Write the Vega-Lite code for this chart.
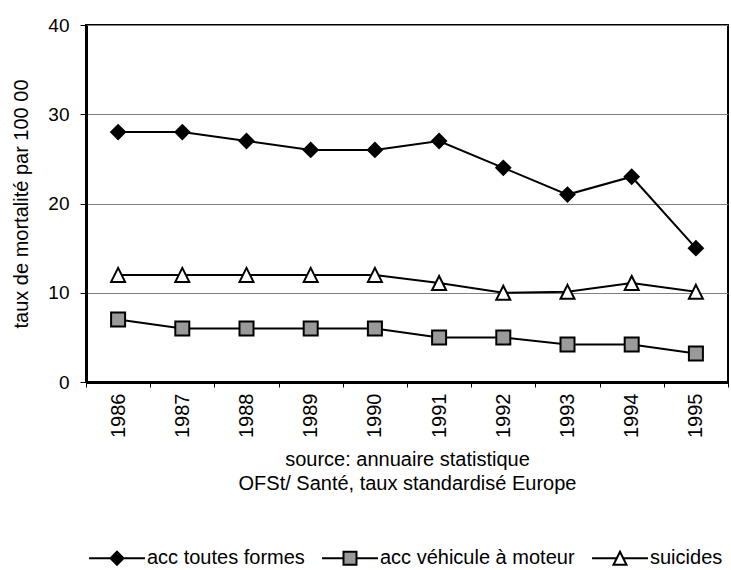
{
  "$schema": "https://vega.github.io/schema/vega-lite/v6.json",
  "width": 642,
  "height": 357,
  "autosize": "none",
  "padding": {"left": 86, "top": 25, "right": 3, "bottom": 188},
  "background": "white",
  "config": {
    "font": "Liberation Sans",
    "view": {"stroke": "black", "strokeWidth": 2},
    "axis": {"labelColor": "black", "titleColor": "black", "tickColor": "black", "domainColor": "black", "titleFontWeight": "normal", "labelFont": "Liberation Sans", "titleFont": "Liberation Sans"},
    "legend": {"labelFont": "Liberation Sans", "labelColor": "black"}
  },
  "data": {
    "values": [
      {"year": 1986, "series": "acc toutes formes", "value": 28},
      {"year": 1987, "series": "acc toutes formes", "value": 28},
      {"year": 1988, "series": "acc toutes formes", "value": 27},
      {"year": 1989, "series": "acc toutes formes", "value": 26},
      {"year": 1990, "series": "acc toutes formes", "value": 26},
      {"year": 1991, "series": "acc toutes formes", "value": 27},
      {"year": 1992, "series": "acc toutes formes", "value": 24},
      {"year": 1993, "series": "acc toutes formes", "value": 21},
      {"year": 1994, "series": "acc toutes formes", "value": 23},
      {"year": 1995, "series": "acc toutes formes", "value": 15},
      {"year": 1986, "series": "acc véhicule à moteur", "value": 7},
      {"year": 1987, "series": "acc véhicule à moteur", "value": 6},
      {"year": 1988, "series": "acc véhicule à moteur", "value": 6},
      {"year": 1989, "series": "acc véhicule à moteur", "value": 6},
      {"year": 1990, "series": "acc véhicule à moteur", "value": 6},
      {"year": 1991, "series": "acc véhicule à moteur", "value": 5},
      {"year": 1992, "series": "acc véhicule à moteur", "value": 5},
      {"year": 1993, "series": "acc véhicule à moteur", "value": 4.2},
      {"year": 1994, "series": "acc véhicule à moteur", "value": 4.2},
      {"year": 1995, "series": "acc véhicule à moteur", "value": 3.2},
      {"year": 1986, "series": "suicides", "value": 12},
      {"year": 1987, "series": "suicides", "value": 12},
      {"year": 1988, "series": "suicides", "value": 12},
      {"year": 1989, "series": "suicides", "value": 12},
      {"year": 1990, "series": "suicides", "value": 12},
      {"year": 1991, "series": "suicides", "value": 11.1},
      {"year": 1992, "series": "suicides", "value": 10},
      {"year": 1993, "series": "suicides", "value": 10.1},
      {"year": 1994, "series": "suicides", "value": 11.1},
      {"year": 1995, "series": "suicides", "value": 10.1}
    ]
  },
  "encoding": {
    "x": {
      "field": "year",
      "type": "ordinal",
      "scale": {"type": "band", "paddingInner": 0, "paddingOuter": 0},
      "axis": {
        "title": ["source: annuaire statistique", "OFSt/ Santé, taux standardisé Europe"],
        "titleFontSize": 20,
        "titleLineHeight": 24,
        "titlePadding": 12,
        "labelAngle": -90,
        "labelFontSize": 20,
        "labelPadding": 6,
        "tickBand": "extent",
        "tickSize": 5,
        "tickWidth": 1,
        "domainWidth": 3,
        "grid": false
      }
    },
    "y": {
      "field": "value",
      "type": "quantitative",
      "scale": {"domain": [0, 40], "nice": false},
      "axis": {
        "values": [0, 10, 20, 30, 40],
        "grid": true,
        "gridColor": "#808080",
        "gridWidth": 1,
        "tickSize": 6,
        "labelFontSize": 19,
        "labelPadding": 11,
        "domainWidth": 3,
        "title": "taux de mortalité par 100 00",
        "titleFontSize": 20,
        "titlePadding": 16
      }
    }
  },
  "layer": [
    {
      "mark": {"type": "line", "color": "black", "strokeWidth": 2},
      "encoding": {"detail": {"field": "series"}}
    },
    {
      "mark": {"type": "point", "filled": true, "stroke": "black", "strokeWidth": 2, "size": 196, "opacity": 1},
      "encoding": {
        "shape": {"field": "series", "scale": {"domain": ["acc toutes formes", "acc véhicule à moteur", "suicides"], "range": ["diamond", "square", "M0,-1L1,1L-1,1Z"]}, "legend": null},
        "fill": {"field": "series", "scale": {"domain": ["acc toutes formes", "acc véhicule à moteur", "suicides"], "range": ["black", "#9a9a9a", "white"]}, "legend": null}
      }
    },
    {
      "transform": [{"filter": "false"}],
      "mark": {"type": "point", "filled": true, "stroke": "black", "strokeWidth": 2, "size": 169, "opacity": 1},
      "encoding": {
        "shape": {
          "field": "series",
          "scale": {"domain": ["acc toutes formes", "acc véhicule à moteur", "suicides"], "range": ["M-4.3,0H-1M1,0H4.3M0,-1L1,0L0,1L-1,0Z", "M-4.3,0H-1M1,0H4.3M-1,-1H1V1H-1Z", "M-4.3,0H-0.5M0.5,0H4.3M0,-1L1,1L-1,1Z"]},
          "legend": {"title": null, "orient": "none", "direction": "horizontal", "legendX": 21, "legendY": 523, "labelFontSize": 20, "labelLimit": 400, "labelOffset": 20, "columnPadding": 13, "padding": 0, "symbolStrokeWidth": 2, "symbolSize": 169}
        },
        "fill": {
          "field": "series",
          "scale": {"domain": ["acc toutes formes", "acc véhicule à moteur", "suicides"], "range": ["black", "#9a9a9a", "white"]},
          "legend": {"title": null, "orient": "none", "direction": "horizontal", "legendX": 21, "legendY": 523, "labelFontSize": 20, "labelLimit": 400, "labelOffset": 20, "columnPadding": 13, "padding": 0, "symbolStrokeWidth": 2, "symbolSize": 169}
        }
      }
    }
  ],
  "resolve": {"scale": {"shape": "independent", "fill": "independent"}, "legend": {"shape": "independent", "fill": "independent"}}
}
